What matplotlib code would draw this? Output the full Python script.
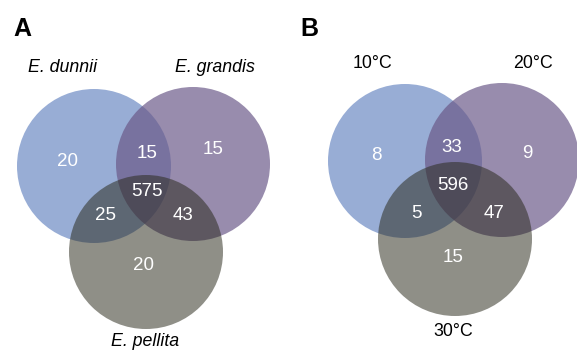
import matplotlib.pyplot as plt
from matplotlib.patches import Circle

plt.rcParams['font.family'] = ['Liberation Sans', 'DejaVu Sans']

# region order: only1, only2, only3, 1&2, 1&3, 2&3, all
regions = ["100", "010", "001", "110", "101", "011", "111"]

species = ["E. dunnii", "E. grandis", "E. pellita"]
species_counts = [20, 15, 20, 15, 25, 43, 575]

temps = ["10°C", "20°C", "30°C"]
temp_counts = [8, 9, 15, 33, 5, 47, 596]

# colours of the three sets (drawn translucent on white)
set_colors = ["#6c8ac4", "#6a5888", "#28281a"]
set_alpha = [0.70, 0.69, 0.52]

fig = plt.figure(figsize=(5.77, 3.5), dpi=100)
ax = fig.add_axes([0, 0, 1, 1])
ax.set_xlim(0, 577)
ax.set_ylim(350, 0)
ax.set_aspect('equal')
ax.axis('off')


def venn(ax, x0, centers, radius, label_xy, names, counts, count_xy, italic):
    for (cx, cy), col, a in zip(centers, set_colors, set_alpha):
        ax.add_patch(Circle((x0 + cx, cy), radius, facecolor=col,
                            edgecolor='none', alpha=a))
    for name, (lx, ly) in zip(names, label_xy):
        ax.text(x0 + lx, ly, name, ha='center', va='center', fontsize=12.8,
                style='italic' if italic else 'normal', color='black')
    for reg, n in zip(regions, counts):
        tx, ty = count_xy[reg]
        ax.text(x0 + tx, ty, str(n), ha='center', va='center',
                fontsize=13.5, color='white')


# panel A
venn(ax, 0,
     centers=[(94, 166), (193, 164), (146, 252)], radius=77,
     label_xy=[(63, 67), (215, 67), (145, 342)],
     names=species, counts=species_counts,
     count_xy={"100": (67, 162), "010": (213, 150), "001": (144, 266),
               "110": (147, 153), "101": (106, 216), "011": (183, 216),
               "111": (147, 192)},
     italic=True)

# panel B
venn(ax, 290,
     centers=[(115, 161), (212, 160), (165, 239)], radius=77,
     label_xy=[(82, 63), (243, 63), (163, 331)],
     names=temps, counts=temp_counts,
     count_xy={"100": (86, 155), "010": (237, 154), "001": (163, 258),
               "110": (162, 147), "101": (126, 213), "011": (204, 213),
               "111": (163, 185)},
     italic=False)

ax.text(22, 29, "A", ha='center', va='center', fontsize=18, fontweight='bold')
ax.text(309, 29, "B", ha='center', va='center', fontsize=18, fontweight='bold')

fig.savefig("out.png", dpi=100)
